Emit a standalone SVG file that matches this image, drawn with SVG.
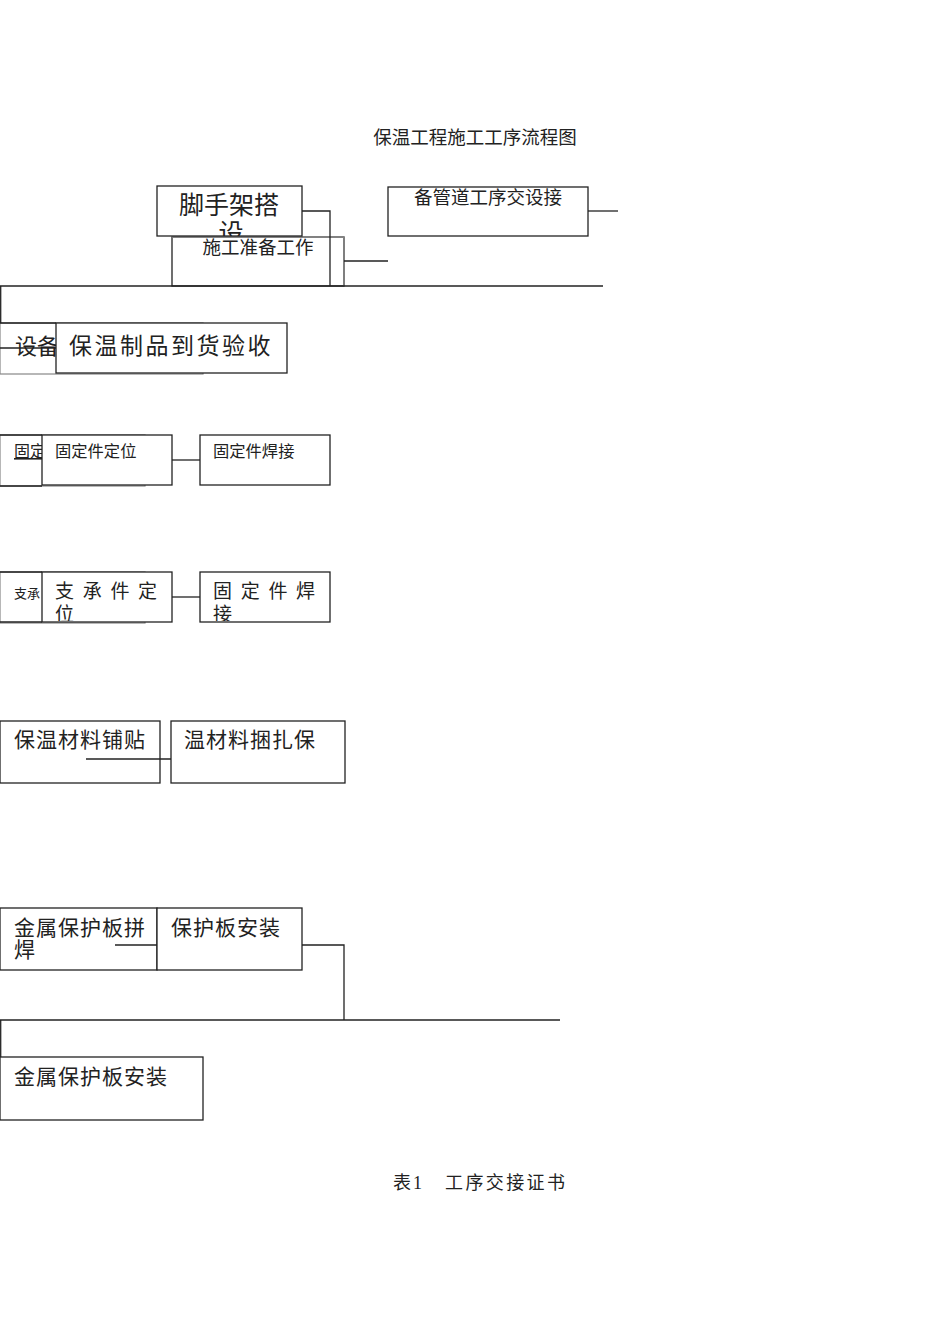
<svg xmlns="http://www.w3.org/2000/svg" width="950" height="1344" viewBox="0 0 950 1344">
<style>
.bx{fill:#fff;stroke:#222;stroke-width:1.3}
.gb{fill:#fff;stroke:#888;stroke-width:1.2}
.ln{fill:none;stroke:#222;stroke-width:1.3}
text{font-family:"Liberation Serif","Noto Sans CJK SC",serif;fill:#222}
</style>
<defs>
<clipPath id="c1"><rect x="157" y="186" width="145" height="50"/></clipPath>
<clipPath id="c4a"><rect x="42" y="572" width="130" height="49"/></clipPath>
<clipPath id="c4b"><rect x="200" y="572" width="130" height="49"/></clipPath>
</defs>
<rect width="950" height="1344" fill="#fff"/>
<text id="title" x="475" y="144" font-size="18.5" text-anchor="middle">保温工程施工工序流程图</text>

<g id="n-prep">
<rect class="bx" x="172" y="237" width="172" height="49"/>
<line x1="172" y1="237" x2="344" y2="237" stroke="#888" stroke-width="1.3"/>
<line x1="344" y1="237" x2="344" y2="286" stroke="#888" stroke-width="1.3"/>
<text x="258" y="254" font-size="18.5" text-anchor="middle">施工准备工作</text>
</g>
<g id="n-scaffold">
<rect class="bx" x="157" y="186" width="145" height="50"/>
<g clip-path="url(#c1)">
<text x="229" y="214" font-size="25" text-anchor="middle">脚手架搭</text>
<text x="231" y="242" font-size="25" text-anchor="middle">设</text>
</g>
</g>
<g id="n-handover">
<rect class="bx" x="388" y="187" width="200" height="49"/>
<text x="488" y="204" font-size="18.5" text-anchor="middle">备管道工序交设接</text>
</g>

<g id="n-equip">
<rect class="gb" x="0" y="323" width="203" height="51"/>
<line x1="0" y1="323" x2="56" y2="323" stroke="#222" stroke-width="1.3"/>
<text x="15" y="354" font-size="22">设备</text>
</g>
<g id="n-arrival">
<rect class="bx" x="56" y="323" width="231" height="50"/>
<text x="69" y="354" font-size="23" letter-spacing="2.5">保温制品到货验收</text>
</g>

<g id="n-fix0">
<rect class="gb" x="0" y="435" width="145" height="51"/>
<line x1="0" y1="435" x2="42" y2="435" stroke="#222" stroke-width="1.3"/>
<line x1="0" y1="486" x2="42" y2="486" stroke="#222" stroke-width="1.3"/>
<text x="14" y="457" font-size="16" text-decoration="underline">固定</text>
</g>
<g id="n-fixpos">
<rect class="bx" x="42" y="435" width="130" height="50"/>
<text x="55" y="457" font-size="16.3">固定件定位</text>
</g>
<g id="n-fixweld">
<rect class="bx" x="200" y="435" width="130" height="50"/>
<text x="213" y="457" font-size="16.3">固定件焊接</text>
</g>

<g id="n-sup0">
<rect class="gb" x="0" y="572" width="145" height="51"/>
<line x1="0" y1="572" x2="42" y2="572" stroke="#222" stroke-width="1.3"/>
<line x1="0" y1="622" x2="42" y2="622" stroke="#222" stroke-width="1.3"/>
<text x="14" y="598" font-size="13">支承</text>
</g>
<g id="n-suppos">
<rect class="bx" x="42" y="572" width="130" height="50"/>
<g clip-path="url(#c4a)">
<text x="55" y="598" font-size="19" letter-spacing="8.7">支承件定</text>
<text x="55" y="621" font-size="19">位</text>
</g>
</g>
<g id="n-supweld">
<rect class="bx" x="200" y="572" width="130" height="50"/>
<g clip-path="url(#c4b)">
<text x="213" y="598" font-size="19" letter-spacing="8.7">固定件焊</text>
<text x="213" y="621" font-size="19">接</text>
</g>
</g>

<g id="n-lay">
<rect class="bx" x="0" y="721" width="160" height="62"/>
<text x="14" y="747" font-size="21" letter-spacing="1">保温材料铺贴</text>
</g>
<g id="n-bind">
<rect class="bx" x="171" y="721" width="174" height="62"/>
<text x="184" y="747" font-size="21" letter-spacing="1">温材料捆扎保</text>
</g>

<g id="n-weldplate">
<rect class="bx" x="0" y="908" width="157" height="62"/>
<text x="14" y="935" font-size="21" letter-spacing="1">金属保护板拼</text>
<text x="14" y="957" font-size="21">焊</text>
</g>
<g id="n-plate">
<rect class="bx" x="157" y="908" width="145" height="62"/>
<text x="171" y="935" font-size="21" letter-spacing="1">保护板安装</text>
</g>
<g id="n-metal">
<rect class="bx" x="0" y="1057" width="203" height="63"/>
<text x="14" y="1084" font-size="21" letter-spacing="1">金属保护板安装</text>
</g>

<g id="connectors">
<polyline class="ln" points="302,211 330,211 330,286"/>
<line class="ln" x1="344" y1="261" x2="388" y2="261"/>
<line class="ln" x1="588" y1="211" x2="618" y2="211"/>
<line class="ln" x1="0" y1="286" x2="603" y2="286"/>
<line class="ln" x1="0.7" y1="286" x2="0.7" y2="323"/>
<line class="ln" x1="0" y1="348" x2="56" y2="348"/>
<line class="ln" x1="172" y1="460" x2="200" y2="460"/>
<line class="ln" x1="172" y1="597" x2="200" y2="597"/>
<line class="ln" x1="86" y1="759" x2="171" y2="759"/>
<line class="ln" x1="115" y1="945" x2="157" y2="945"/>
<polyline class="ln" points="302,945 344,945 344,1020"/>
<line class="ln" x1="0" y1="1020" x2="560" y2="1020"/>
<line class="ln" x1="0.7" y1="1020" x2="0.7" y2="1057"/>
</g>

<text id="caption" x="393" y="1189" font-size="18">表<tspan x="413">1</tspan><tspan x="445" textLength="120">工序交接证书</tspan></text>
</svg>
